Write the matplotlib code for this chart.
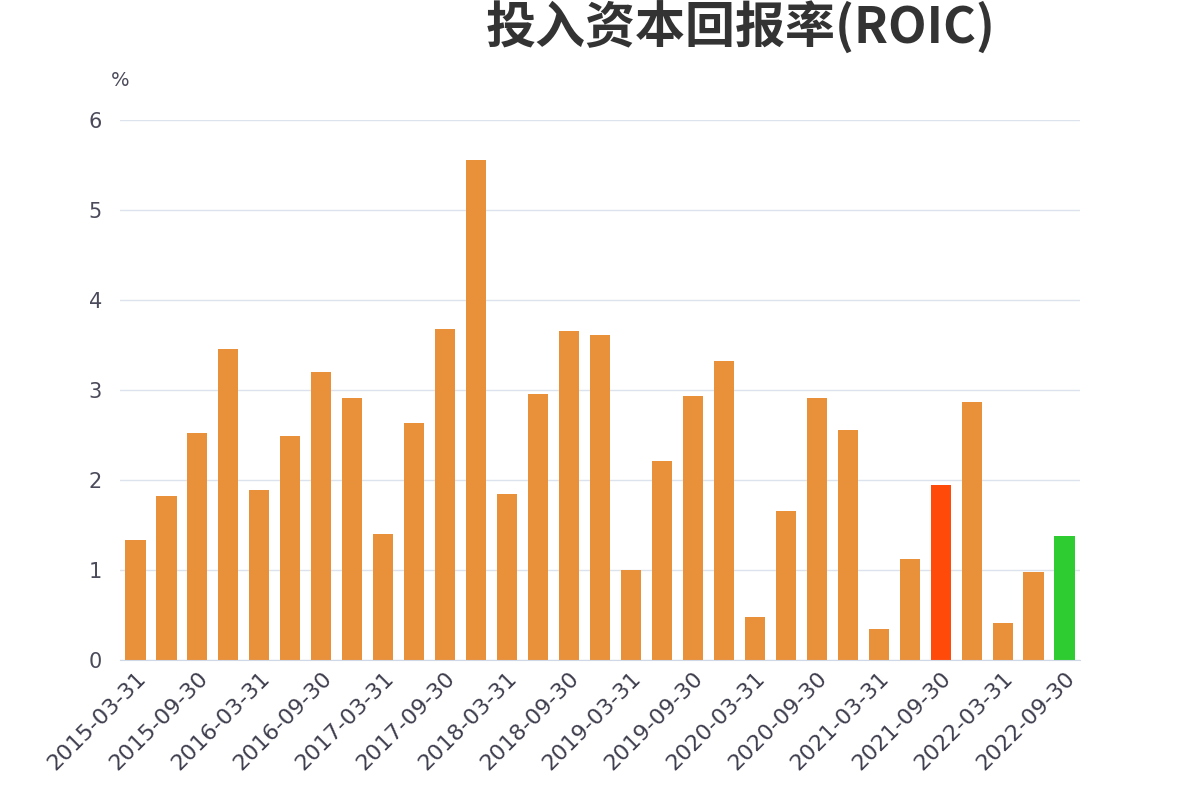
import matplotlib
matplotlib.use("Agg")
import matplotlib.pyplot as plt
import numpy as np

plt.rcParams['font.family'] = ['DejaVu Sans', 'Noto Sans CJK SC']

# quarterly report dates, 2015Q1 .. 2022Q3
dates = [f"{y}-{md}" for y in range(2015, 2023) for md in ["03-31", "06-30", "09-30", "12-31"]][:31]
roic = [1.33, 1.82, 2.52, 3.46, 1.89, 2.49, 3.20, 2.91, 1.40, 2.63,
        3.68, 5.55, 1.84, 2.96, 3.65, 3.61, 1.00, 2.21, 2.93, 3.32,
        0.48, 1.66, 2.91, 2.56, 0.35, 1.12, 1.95, 2.87, 0.41, 0.98, 1.38]
highlight = {"2021-09-30": "#FF4A0A", "2022-09-30": "#2ECC30"}
base_color = "#E8913A"

colors = [highlight.get(d, base_color) for d in dates]
x = np.arange(len(dates))

fig = plt.figure(figsize=(12, 8), dpi=100)
ax = fig.add_axes([0.1, 0.175, 0.8, 0.675])
ax.bar(x, roic, width=0.65, color=colors, zorder=2)

ax.set_xlim(-0.5, len(dates) - 0.5)
ax.set_ylim(0, 6)
ax.set_yticks(range(0, 7))
ax.grid(axis='y', color='#dde3ec', linewidth=1, zorder=0)
for s in ['top', 'right', 'left']:
    ax.spines[s].set_visible(False)
ax.spines['bottom'].set_color('#cfd8e6')

ax.set_xticks(x[::2])
ax.set_xticklabels(dates[::2], rotation=45, ha='right', rotation_mode='anchor',
                   fontsize=16, color='#3d3d4d')
ax.tick_params(axis='x', length=0, pad=6)
ax.tick_params(axis='y', length=0, pad=13, labelsize=15, labelcolor='#4a4a5a')

fig.text(0.1, 0.9, '%', fontsize=14, color='#4a4a5a', ha='center', va='center')
fig.text(0.617, 0.965, '投入资本回报率(ROIC)', fontsize=36, fontweight='bold',
         color='#333333', ha='center', va='center',
         family=['Noto Sans CJK SC', 'DejaVu Sans'])

fig.savefig('out.png', dpi=100)
